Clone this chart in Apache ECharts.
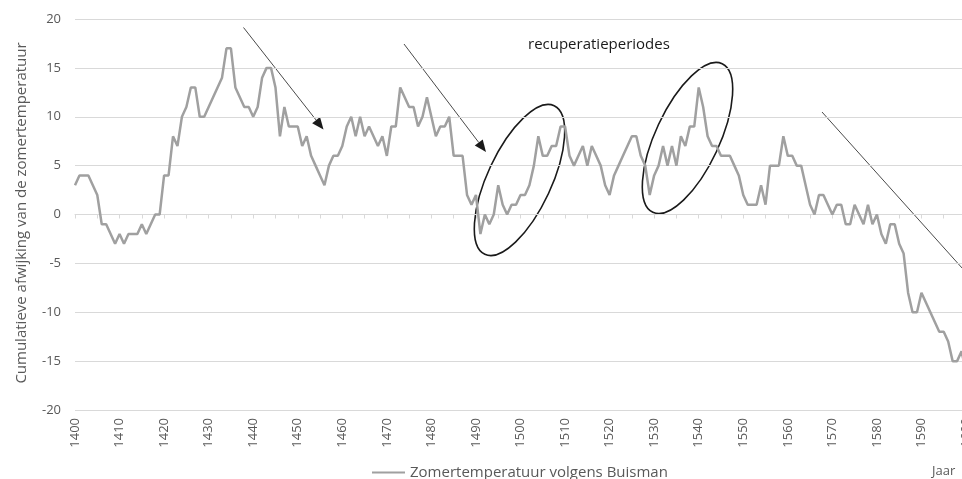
<!DOCTYPE html>
<html>
<head>
<meta charset="utf-8">
<script src="https://cdn.jsdelivr.net/npm/echarts@6/dist/echarts.min.js"></script>
<style>
html,body{margin:0;padding:0;background:#fff;overflow:hidden;width:962px;height:479px;}
#chart{width:980px;height:479px;}
</style>
</head>
<body>
<div id="chart"></div>
<script>
// Categories: years 1400..1600
const firstYear = 1400;
const lastYear = 1600;
const years = [];
for (let y = firstYear; y <= lastYear; y++) years.push(String(y));

// Cumulative deviation of summer temperature (Buisman), one value per year
const values = [
  3, 4, 4, 4, 3, 2, -1, -1, -2, -3,          // 1400-1409
  -2, -3, -2, -2, -2, -1, -2, -1, 0, 0,      // 1410-1419
  4, 4, 8, 7, 10, 11, 13, 13, 10, 10,        // 1420-1429
  11, 12, 13, 14, 17, 17, 13, 12, 11, 11,    // 1430-1439
  10, 11, 14, 15, 15, 13, 8, 11, 9, 9,       // 1440-1449
  9, 7, 8, 6, 5, 4, 3, 5, 6, 6,              // 1450-1459
  7, 9, 10, 8, 10, 8, 9, 8, 7, 8,            // 1460-1469
  6, 9, 9, 13, 12, 11, 11, 9, 10, 12,        // 1470-1479
  10, 8, 9, 9, 10, 6, 6, 6, 2, 1,            // 1480-1489
  2, -2, 0, -1, 0, 3, 1, 0, 1, 1,            // 1490-1499
  2, 2, 3, 5, 8, 6, 6, 7, 7, 9,              // 1500-1509
  9, 6, 5, 6, 7, 5, 7, 6, 5, 3,              // 1510-1519
  2, 4, 5, 6, 7, 8, 8, 6, 5, 2,              // 1520-1529
  4, 5, 7, 5, 7, 5, 8, 7, 9, 9,              // 1530-1539
  13, 11, 8, 7, 7, 6, 6, 6, 5, 4,            // 1540-1549
  2, 1, 1, 1, 3, 1, 5, 5, 5, 8,              // 1550-1559
  6, 6, 5, 5, 3, 1, 0, 2, 2, 1,              // 1560-1569
  0, 1, 1, -1, -1, 1, 0, -1, 1, -1,          // 1570-1579
  0, -2, -3, -1, -1, -3, -4, -8, -10, -10,   // 1580-1589
  -8, -9, -10, -11, -12, -12, -13, -15, -15, -14, // 1590-1599
  -16                                        // 1600
];

const seriesName = 'Zomertemperatuur volgens Buisman';
const yTitle = 'Cumulatieve afwijking van de zomertemperatuur';
const xTitle = 'Jaar';
const noteText = 'recuperatieperiodes';
const yMin = -20, yMax = 20, yStep = 5;

const FONT = '"Open Sans", "Liberation Sans", sans-serif';
const TXT = '#595959';

function arrow(x1, y1, x2, y2) {
  const dx = x2 - x1, dy = y2 - y1;
  const L = Math.sqrt(dx * dx + dy * dy);
  const ux = dx / L, uy = dy / L;
  const hl = 12, hw = 5;
  const bx = x2 - ux * hl, by = y2 - uy * hl;
  return [
    { type: 'line', shape: { x1: x1, y1: y1, x2: bx, y2: by },
      style: { stroke: '#4a4a4a', lineWidth: 1 }, silent: true },
    { type: 'polygon', shape: { points: [[x2, y2], [bx - uy * hw, by + ux * hw], [bx + uy * hw, by - ux * hw]] },
      style: { fill: '#1a1a1a' }, silent: true }
  ];
}

const ellipseStyle = { stroke: '#1a1a1a', lineWidth: 1.6, fill: 'none' };
const ellRot = 65 * Math.PI / 180;

const graphics = [].concat(
  arrow(243.5, 27.5, 323.5, 129.5),
  arrow(404, 44, 486, 152),
  [
    { type: 'ellipse', x: 519.5, y: 180, rotation: ellRot,
      shape: { cx: 0, cy: 0, rx: 82, ry: 32 }, style: ellipseStyle, silent: true },
    { type: 'ellipse', x: 687.5, y: 138, rotation: ellRot,
      shape: { cx: 0, cy: 0, rx: 82, ry: 32 }, style: ellipseStyle, silent: true },
    { type: 'line', shape: { x1: 822, y1: 112, x2: 980, y2: 288 },
      style: { stroke: '#4a4a4a', lineWidth: 1 }, silent: true },
    { type: 'text', x: 528, y: 45,
      style: { text: noteText, font: '15px ' + FONT, fill: '#1a1a1a', textVerticalAlign: 'middle' } },
    { type: 'text', x: 22, y: 213, rotation: Math.PI / 2,
      style: { text: yTitle, font: '15px ' + FONT, fill: TXT, textAlign: 'center', textVerticalAlign: 'middle' } },
    { type: 'text', x: 932, y: 471,
      style: { text: xTitle, font: '13px ' + FONT, fill: TXT, textVerticalAlign: 'middle' } }
  ]
);

const chart = echarts.init(document.getElementById('chart'), null, { renderer: 'canvas' });
chart.setOption({
  animation: false,
  backgroundColor: '#ffffff',
  grid: { left: 75, right: 14, top: 19, bottom: 69, containLabel: false },
  legend: {
    left: 367, top: 460,
    itemWidth: 33, itemHeight: 10, itemGap: 4,
    icon: 'path://M0,4 L33,4 L33,6 L0,6 Z',
    textStyle: { fontFamily: FONT, fontSize: 15, color: TXT },
    data: [seriesName]
  },
  xAxis: {
    type: 'category',
    data: years,
    boundaryGap: false,
    axisLine: { show: true, lineStyle: { color: '#d9d9d9', width: 1 } },
    axisTick: { show: true, interval: 4, length: 4, lineStyle: { color: '#d9d9d9' } },
    axisLabel: { interval: 9, rotate: 90, margin: 8, color: TXT, fontFamily: FONT, fontSize: 13 },
    splitLine: { show: false }
  },
  yAxis: {
    type: 'value',
    min: yMin, max: yMax, interval: yStep,
    axisLine: { show: false },
    axisTick: { show: false },
    axisLabel: { margin: 14, color: TXT, fontFamily: FONT, fontSize: 13 },
    splitLine: { show: true, lineStyle: { color: '#d9d9d9', width: 1.2 } }
  },
  series: [{
    name: seriesName,
    type: 'line',
    data: values,
    showSymbol: false,
    symbol: 'none',
    lineStyle: { color: '#a0a0a0', width: 2.5 },
    itemStyle: { color: '#a0a0a0' }
  }],
  graphic: graphics
});
</script>
</body>
</html>
